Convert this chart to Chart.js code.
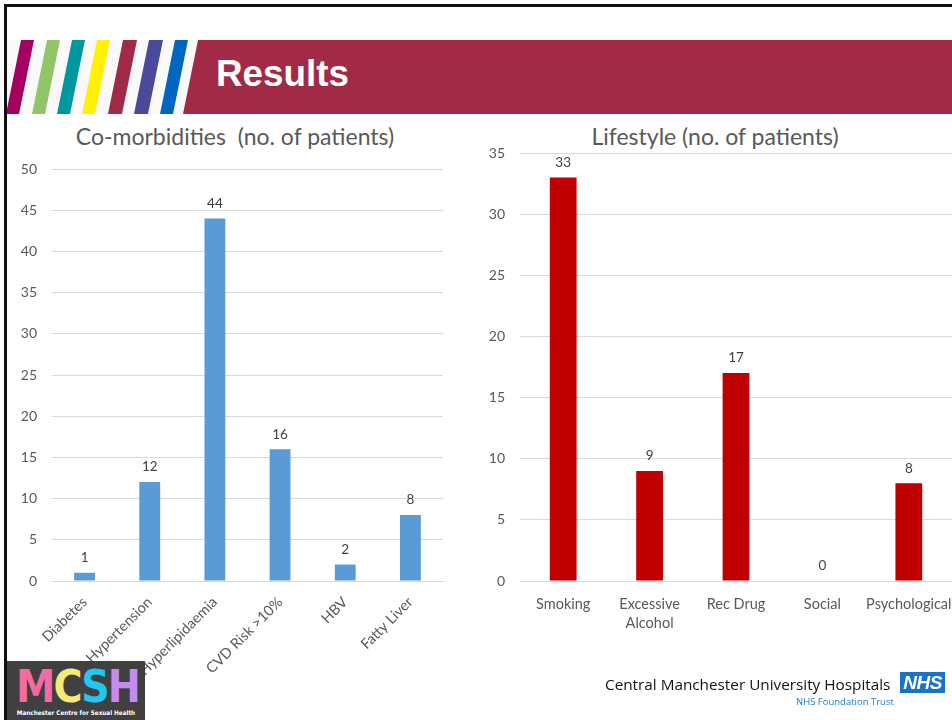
<!DOCTYPE html>
<html>
<head>
<meta charset="utf-8">
<script src="https://cdn.jsdelivr.net/npm/chart.js@4"></script>
<style>
  html, body { margin: 0; padding: 0; background: #fff; }
  body { width: 952px; height: 720px; position: relative; overflow: hidden; font-family: Lato, "Open Sans", sans-serif; }
  .frame-top { position: absolute; left: 4px; top: 4px; width: 948px; height: 3px; background: #111; }
  .frame-left { position: absolute; left: 4px; top: 4px; width: 3px; height: 716px; background: #111; }
  #stripes { position: absolute; left: 7px; top: 40px; }
  .banner-title { position: absolute; left: 216px; top: 53px; color: #fff; font: bold 36.8px "Liberation Sans", Arial, sans-serif; }
  .chart-title { position: absolute; top: 122px; color: #595959; font-size: 23px; white-space: nowrap; transform: translateX(-50%); }
  canvas { position: absolute; }
  #leftChart { left: 0; top: 115px; }
  #rightChart { left: 452px; top: 115px; }
  .mcsh { position: absolute; left: 7px; top: 661px; width: 138px; height: 59px; background: #404040; z-index: 5; }
  .mcsh .big { position: absolute; left: 9px; top: 4px; font: bold 44px "DejaVu Sans Condensed", "DejaVu Sans", sans-serif; letter-spacing: -2px; line-height: 44px; white-space: nowrap; }
  .mcsh .small { position: absolute; left: 0; top: 48px; width: 138px; text-align: center; color: #fff; font: bold 6.3px "DejaVu Sans Condensed", "DejaVu Sans", sans-serif; white-space: nowrap; }
  .cmuh { position: absolute; left: 605px; top: 674px; color: #111; font-size: 15.3px; font-family: "Open Sans", sans-serif; white-space: nowrap; }
  .trust { position: absolute; left: 796px; top: 695px; color: #1a7ad0; font-size: 9.5px; font-family: "Open Sans", sans-serif; white-space: nowrap; }
  .nhs { position: absolute; left: 900px; top: 672px; width: 45px; height: 21px; background: #1a73c9; color: #fff;
         font: italic bold 19px "Liberation Sans", Arial, sans-serif; line-height: 21px; text-align: center; letter-spacing: -0.5px; }
</style>
</head>
<body>
<svg id="stripes" width="945" height="74">
  <rect x="0" y="0" width="945" height="74" fill="#f9f9f9"/>
  <polygon points="14,0 27,0 12,74 -1,74" fill="#a4005f"/>
  <polygon points="40,0 53,0 38,74 25,74" fill="#92c565"/>
  <polygon points="65,0 78,0 63,74 50,74" fill="#00979f"/>
  <polygon points="90,0 103,0 88,74 75,74" fill="#fff200"/>
  <polygon points="116,0 130,0 115,74 101,74" fill="#a12a47"/>
  <polygon points="142,0 156,0 141,74 127,74" fill="#4b4a9a"/>
  <polygon points="168,0 181,0 166,74 153,74" fill="#0066c0"/>
  <polygon points="191,0 945,0 945,74 176,74" fill="#a12a47"/>
</svg>
<div class="frame-top"></div>
<div class="frame-left"></div>
<div class="banner-title">Results</div>

<div class="chart-title" style="left:235px">Co-morbidities&nbsp; (no. of patients)</div>
<div class="chart-title" style="left:715px">Lifestyle (no. of patients)</div>

<canvas id="leftChart" width="452" height="605"></canvas>
<canvas id="rightChart" width="520" height="605"></canvas>

<div class="mcsh">
  <div class="big"><span style="color:#f36ba3">M</span><span style="color:#f3ea78">C</span><span style="color:#22c6f0">S</span><span style="color:#c48bf3">H</span></div>
  <div class="small">Manchester Centre for Sexual Health</div>
</div>
<div class="cmuh">Central Manchester University Hospitals</div>
<div class="nhs">NHS</div>
<div class="trust">NHS Foundation Trust</div>

<script>
const comorbidLabels = ['Diabetes', 'Hypertension', 'Hyperlipidaemia', 'CVD Risk >10%', 'HBV', 'Fatty Liver'];
const comorbidValues = [1, 12, 44, 16, 2, 8];

const lifestyleLabels = ['Smoking', ['Excessive', 'Alcohol'], 'Rec Drug', 'Social', 'Psychological'];
const lifestyleValues = [33, 9, 17, 0, 8];

const textGrey = '#595959';
const gridGrey = '#d9d9d9';
const fontFamily = 'Lato, "Open Sans", sans-serif';

Chart.defaults.font.family = fontFamily;
Chart.defaults.color = textGrey;
Chart.defaults.animation = false;

// Value labels above each bar, placed from the bar elements themselves.
const valueLabels = {
    id: 'valueLabels',
    afterDatasetsDraw(chart) {
        const ctx = chart.ctx;
        ctx.save();
        ctx.font = '13.5px ' + fontFamily;
        ctx.fillStyle = '#404040';
        ctx.textAlign = 'center';
        ctx.textBaseline = 'middle';
        const meta = chart.getDatasetMeta(0);
        meta.data.forEach((bar, i) => {
            ctx.fillText(chart.data.datasets[0].data[i], bar.x, bar.y - 15);
        });
        ctx.restore();
    },
};

function barChart(id, labels, values, color, opts) {
    new Chart(document.getElementById(id), {
        type: 'bar',
        data: {
            labels: labels,
            datasets: [{
                data: values,
                backgroundColor: color,
                barPercentage: opts.barPct,
                categoryPercentage: 1,
            }],
        },
        options: {
            responsive: false,
            layout: { padding: { top: opts.top, right: opts.right, left: 0, bottom: 0 } },
            plugins: { legend: { display: false }, tooltip: { enabled: false } },
            scales: {
                x: {
                    grid: { display: false },
                    border: { color: gridGrey },
                    ticks: {
                        font: { size: 14.5, lineHeight: 1.3 },
                        color: textGrey,
                        minRotation: opts.rot,
                        maxRotation: opts.rot,
                        padding: opts.xPad,
                        autoSkip: false,
                    },
                    afterFit: (s) => { s.height = opts.xHeight; },
                },
                y: {
                    min: 0,
                    max: opts.max,
                    border: { display: false },
                    grid: { color: gridGrey, drawTicks: false },
                    ticks: { stepSize: 5, font: { size: 14 }, color: textGrey, padding: 15 },
                    afterFit: (s) => { s.width = opts.yWidth; },
                },
            },
        },
        plugins: [valueLabels],
    });
}

barChart('leftChart', comorbidLabels, comorbidValues, '#5b9bd5', {
    barPct: 0.32, top: 54, right: 9, rot: 45, xPad: 4, xHeight: 139, max: 50, yWidth: 52,
});
barChart('rightChart', lifestyleLabels, lifestyleValues, '#c00000', {
    barPct: 0.31, top: 38, right: 20, rot: 0, xPad: 6, xHeight: 139, max: 35, yWidth: 68,
});
</script>
</body>
</html>
